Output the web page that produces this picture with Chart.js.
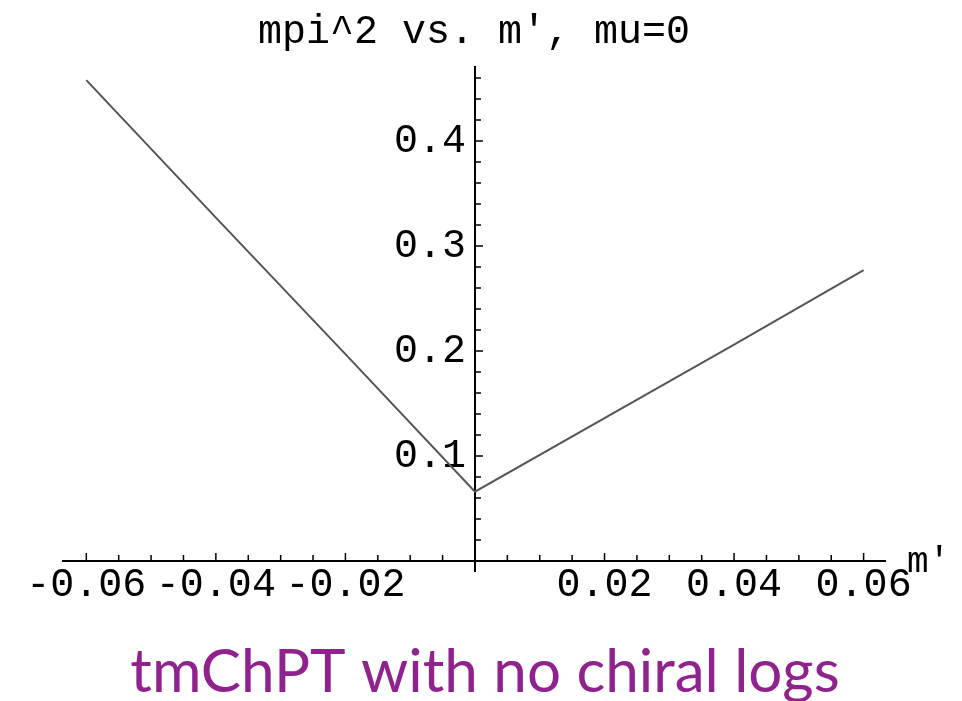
<!DOCTYPE html>
<html>
<head>
<meta charset="utf-8">
<script src="https://cdn.jsdelivr.net/npm/chart.js@4.4.1/dist/chart.umd.min.js"></script>
<style>
  html, body { margin: 0; padding: 0; background: #fff; }
  #chart { display: block; }
</style>
</head>
<body>
<canvas id="chart" width="962" height="701"></canvas>
<script>
// mpi^2 against m' (mu = 0)
const mPrime = [-0.06, -0.04, -0.02, 0, 0.02, 0.04, 0.06];
const mpiSquared = [0.458, 0.327, 0.197, 0.066, 0.136, 0.206, 0.277];

// axis ticks
const xMajorTicks = [-0.06, -0.04, -0.02, 0.02, 0.04, 0.06];
const xTickLabels = ['-0.06', '-0.04', '-0.02', '0.02', '0.04', '0.06'];
const xMinorTicks = [-0.055, -0.05, -0.045, -0.035, -0.03, -0.025, -0.015, -0.01, -0.005,
                     0.005, 0.01, 0.015, 0.025, 0.03, 0.035, 0.045, 0.05, 0.055];
const yMajorTicks = [0.1, 0.2, 0.3, 0.4];
const yTickLabels = ['0.1', '0.2', '0.3', '0.4'];
const yMinorTicks = [0.02, 0.04, 0.06, 0.08, 0.12, 0.14, 0.16, 0.18, 0.22, 0.24, 0.26, 0.28,
                     0.32, 0.34, 0.36, 0.38, 0.42, 0.44, 0.46];

// axis limits
const xLimits = [-0.0636, 0.0633];
const yLimits = [-0.01, 0.4705];

const titleText = 'mpi^2 vs. m\u2032, mu=0';
const axisLabel = 'm\u2032';
const captionText = 'tmChPT with no chiral logs';

const monoFont = '"Liberation Mono", "DejaVu Sans Mono", monospace';
Chart.defaults.color = '#000';

// axes cross at the origin, no grid
function axisScale(limits, crossAt, tickValues, labels) {
    return {
        type: 'linear',
        min: limits[0],
        max: limits[1],
        position: crossAt,
        grid: { drawOnChartArea: false, drawTicks: false },
        border: { display: true, color: '#000', width: 2 },
        ticks: {
            autoSkip: false,
            maxRotation: 0,
            minRotation: 0,
            padding: 4,
            color: '#000',
            font: { family: monoFont, size: 40, lineHeight: 1 },
            callback: (value, index) => labels[index]
        },
        afterBuildTicks: (scale) => {
            scale.ticks = tickValues.map(v => ({ value: v }));
        }
    };
}

// Mathematica style tick marks: pointing into the plot, majors a bit longer
function drawTickMarks(ctx, chart) {
    const { x, y } = chart.scales;
    const x0 = x.getPixelForValue(0);
    const y0 = y.getPixelForValue(0);
    ctx.strokeStyle = '#000';
    ctx.lineWidth = 1.5;
    ctx.beginPath();
    [[xMajorTicks, 7], [xMinorTicks, 5]].forEach(([vals, len]) => {
        vals.forEach(v => {
            const px = x.getPixelForValue(v);
            ctx.moveTo(px, y0 - 1);
            ctx.lineTo(px, y0 - 1 - len);
        });
    });
    [[yMajorTicks, 7], [yMinorTicks, 5]].forEach(([vals, len]) => {
        vals.forEach(v => {
            const py = y.getPixelForValue(v);
            ctx.moveTo(x0 + 1, py);
            ctx.lineTo(x0 + 1 + len, py);
        });
    });
    ctx.stroke();
}

const annotations = {
    id: 'annotations',
    beforeDraw(chart) {
        // y labels sit on the axis itself when it is placed at x = 0; leave a gap
        const items = chart.scales.y.getLabelItems();
        if (!items._shifted) {
            items.forEach(it => { it.options.translation[0] -= 9; });
            items._shifted = true;
        }
    },
    afterDraw(chart) {
        const { ctx, scales: { x, y } } = chart;
        ctx.save();
        drawTickMarks(ctx, chart);

        ctx.fillStyle = '#000';
        ctx.font = '36px ' + monoFont;
        ctx.textAlign = 'left';
        ctx.textBaseline = 'alphabetic';
        ctx.fillText(axisLabel, x.right + 22, y.getPixelForValue(0) + 11);

        ctx.font = '100px Lato, sans-serif';
        const size = 100 * 710 / ctx.measureText(captionText).width;
        ctx.font = size.toFixed(1) + 'px Lato, sans-serif';
        ctx.fillStyle = '#90228e';
        ctx.textAlign = 'center';
        ctx.fillText(captionText, 485, 692);
        ctx.restore();
    }
};

new Chart(document.getElementById('chart'), {
    type: 'line',
    data: {
        datasets: [{
            data: mPrime.map((m, i) => ({ x: m, y: mpiSquared[i] })),
            borderColor: '#555',
            borderWidth: 2,
            pointRadius: 0,
            fill: false,
            tension: 0
        }]
    },
    options: {
        responsive: false,
        animation: false,
        devicePixelRatio: 1,
        layout: { padding: { left: 63, right: 77, top: 0, bottom: 129.5 } },
        plugins: {
            legend: { display: false },
            tooltip: { enabled: false },
            title: {
                display: true,
                text: titleText,
                color: '#000',
                font: { family: monoFont, size: 40, weight: 'normal', lineHeight: 1.2 },
                padding: { top: 8, bottom: 11 }
            }
        },
        scales: {
            x: axisScale(xLimits, { y: 0 }, xMajorTicks, xTickLabels),
            y: axisScale(yLimits, { x: 0 }, yMajorTicks, yTickLabels)
        }
    },
    plugins: [annotations]
});
</script>
</body>
</html>
